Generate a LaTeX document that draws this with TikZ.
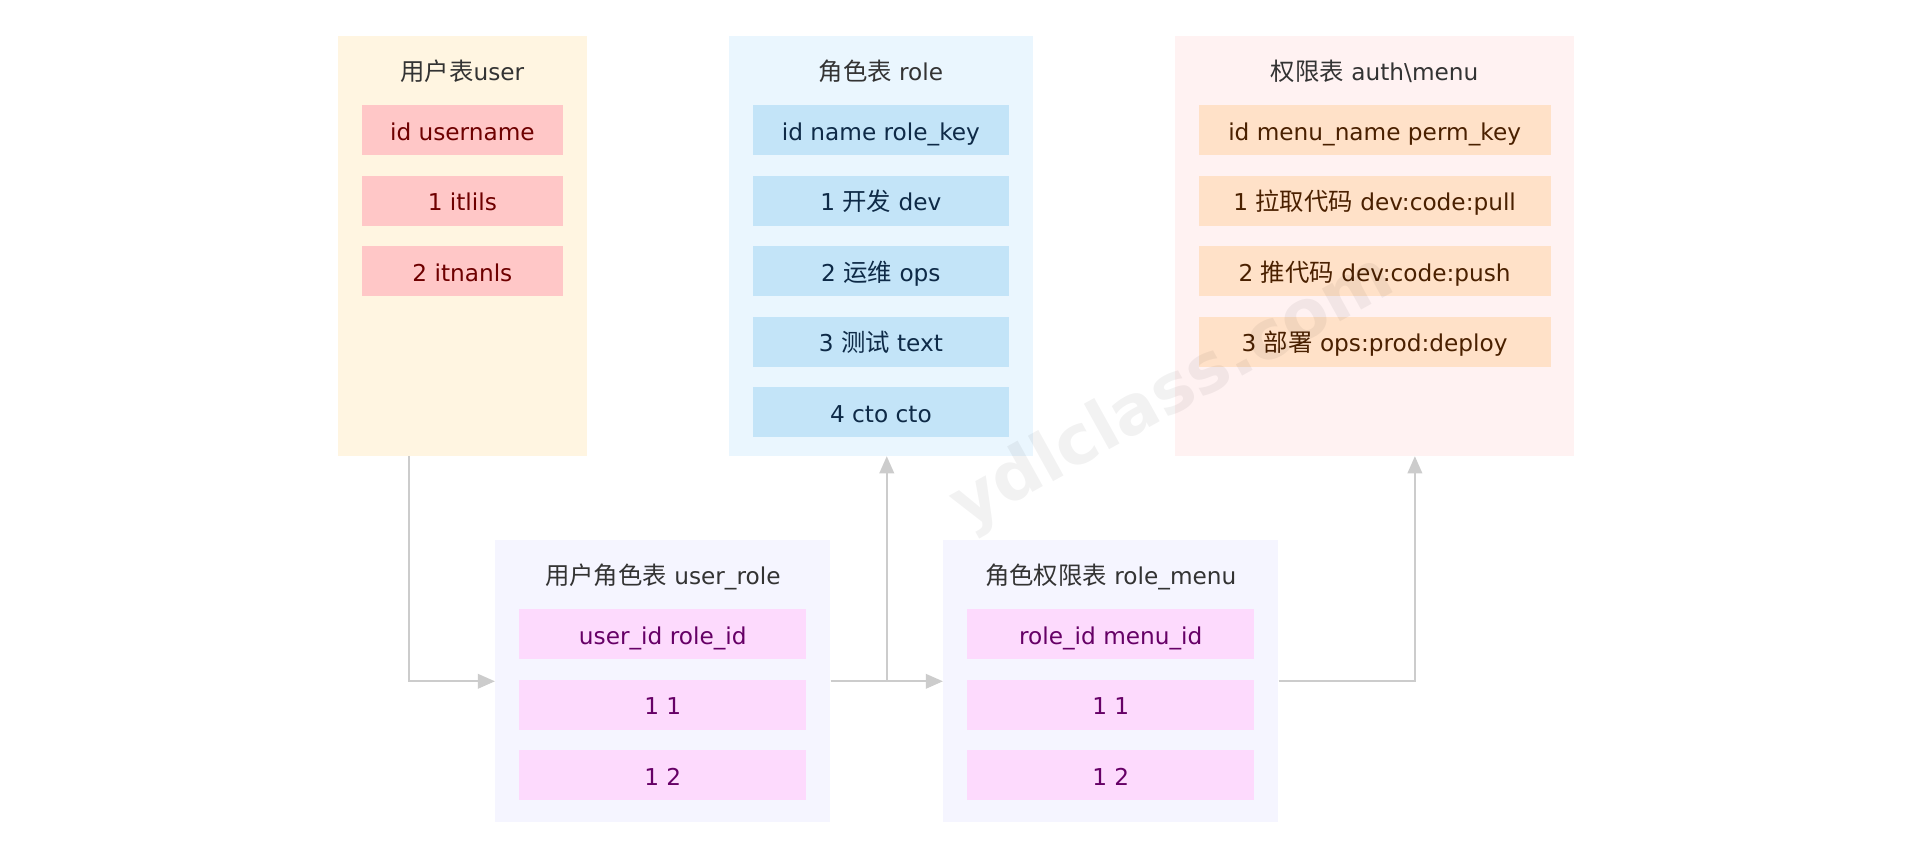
\documentclass[tikz,border=0pt]{standalone}
\usepackage{fontspec}
\setmainfont{DejaVu Sans}
\newfontfamily\cjk{Noto Sans CJK SC}[Scale=1.05]
\newfontfamily\markfont{DejaVu Sans Bold}
\usetikzlibrary{arrows.meta,positioning,calc}

\definecolor{titlegray}{HTML}{333333}
\definecolor{linegray}{HTML}{CCCCCC}
\definecolor{userbg}{HTML}{FFF5E1}
\definecolor{userrow}{HTML}{FFC7C7}
\definecolor{usertext}{HTML}{6E0000}
\definecolor{rolebg}{HTML}{EAF6FE}
\definecolor{rolerow}{HTML}{C3E4F8}
\definecolor{roletext}{HTML}{0E2A47}
\definecolor{authbg}{HTML}{FFF2F2}
\definecolor{authrow}{HTML}{FFE1C8}
\definecolor{authtext}{HTML}{4A2000}
\definecolor{linkbg}{HTML}{F5F5FF}
\definecolor{linkrow}{HTML}{FDDAFD}
\definecolor{linktext}{HTML}{660066}

\begin{document}
\begin{tikzpicture}[x=1pt, y=-1pt,
            every node/.style={font=\fontsize{19}{23}\selectfont},
            panel/.style={anchor=north west, inner sep=0pt},
            title/.style={inner sep=0pt, text height=16pt, text depth=0pt, text=titlegray},
            cell/.style={inner sep=0pt, minimum height=41pt, text height=16pt, text depth=0pt},
            link/.style={draw=linegray, line width=1.4pt, -{Triangle[length=14pt,width=12pt]}},
            watermark/.style={rotate=29, text=black, opacity=0.05, font=\markfont\fontsize{56}{60}\selectfont},
            node distance = 16.3pt
  ]

  \fill[white] (0,0) rectangle (1568,697.3);
  \useasboundingbox (0,0) rectangle (1568,697.3);

  % upper tables
  \node[panel, fill=userbg, minimum width=203.4pt, minimum height=343.5pt] (user) at (276.5,29.5) {};
  \node[title] (usertitle) [below=20pt of user.north] {{\cjk 用户表}user};
  \node[cell, fill=userrow, text=usertext, minimum width=163.9pt] (user1) [below=20pt of usertitle] {id username};
  \node[cell, fill=userrow, text=usertext, minimum width=163.9pt] (user2) [below=of user1] {1 itlils};
  \node[cell, fill=userrow, text=usertext, minimum width=163.9pt] (user3) [below=of user2] {2 itnanls};

  \node[panel, fill=rolebg, minimum width=248.6pt, minimum height=343.5pt] (role) at (596.4,29.5) {};
  \node[title] (roletitle) [below=20pt of role.north] {{\cjk 角色表} role};
  \node[cell, fill=rolerow, text=roletext, minimum width=209.1pt] (role1) [below=20pt of roletitle] {id name role\_key};
  \node[cell, fill=rolerow, text=roletext, minimum width=209.1pt] (role2) [below=of role1] {1 {\cjk 开发} dev};
  \node[cell, fill=rolerow, text=roletext, minimum width=209.1pt] (role3) [below=of role2] {2 {\cjk 运维} ops};
  \node[cell, fill=rolerow, text=roletext, minimum width=209.1pt] (role4) [below=of role3] {3 {\cjk 测试} text};
  \node[cell, fill=rolerow, text=roletext, minimum width=209.1pt] (role5) [below=of role4] {4 cto cto};

  \node[panel, fill=authbg, minimum width=326.5pt, minimum height=343.5pt] (auth) at (961.5,29.5) {};
  \node[title] (authtitle) [below=20pt of auth.north] {{\cjk 权限表} auth\textbackslash menu};
  \node[cell, fill=authrow, text=authtext, minimum width=287.9pt] (auth1) [below=20pt of authtitle] {id menu\_name perm\_key};
  \node[cell, fill=authrow, text=authtext, minimum width=287.9pt] (auth2) [below=of auth1] {1 {\cjk 拉取代码} dev:code:pull};
  \node[cell, fill=authrow, text=authtext, minimum width=287.9pt] (auth3) [below=of auth2] {2 {\cjk 推代码} dev:code:push};
  \node[cell, fill=authrow, text=authtext, minimum width=287.9pt] (auth4) [below=of auth3] {3 {\cjk 部署} ops:prod:deploy};

  % link tables
  \node[panel, fill=linkbg, minimum width=274.4pt, minimum height=230.7pt] (userrole) at (405,442) {};
  \node[title] (userroletitle) [below=20pt of userrole.north] {{\cjk 用户角色表} user\_role};
  \node[cell, fill=linkrow, text=linktext, minimum width=234.9pt] (userrole1) [below=20pt of userroletitle] {user\_id role\_id};
  \node[cell, fill=linkrow, text=linktext, minimum width=234.9pt] (userrole2) [below=of userrole1] {1 1};
  \node[cell, fill=linkrow, text=linktext, minimum width=234.9pt] (userrole3) [below=of userrole2] {1 2};

  \node[panel, fill=linkbg, minimum width=274.4pt, minimum height=230.7pt] (rolemenu) at (771.6,442) {};
  \node[title] (rolemenutitle) [below=20pt of rolemenu.north] {{\cjk 角色权限表} role\_menu};
  \node[cell, fill=linkrow, text=linktext, minimum width=234.9pt] (rolemenu1) [below=20pt of rolemenutitle] {role\_id menu\_id};
  \node[cell, fill=linkrow, text=linktext, minimum width=234.9pt] (rolemenu2) [below=of rolemenu1] {1 1};
  \node[cell, fill=linkrow, text=linktext, minimum width=234.9pt] (rolemenu3) [below=of rolemenu2] {1 2};

  \node[watermark] (site) at (960,322) {ydlclass.com};

  % connectors
  \coordinate (fork) at ($(userrole.east)!0.5!(rolemenu.west)$);
  \draw[link] ([xshift=58.5pt]user.south west) |- (userrole.west);
  \draw[link] (userrole.east) -- (rolemenu.west);
  \draw[link] (fork) -- (fork |- role.south);
  \draw[link] (rolemenu.east) -| ([xshift=-130.5pt]auth.south east);

\end{tikzpicture}
\end{document}
